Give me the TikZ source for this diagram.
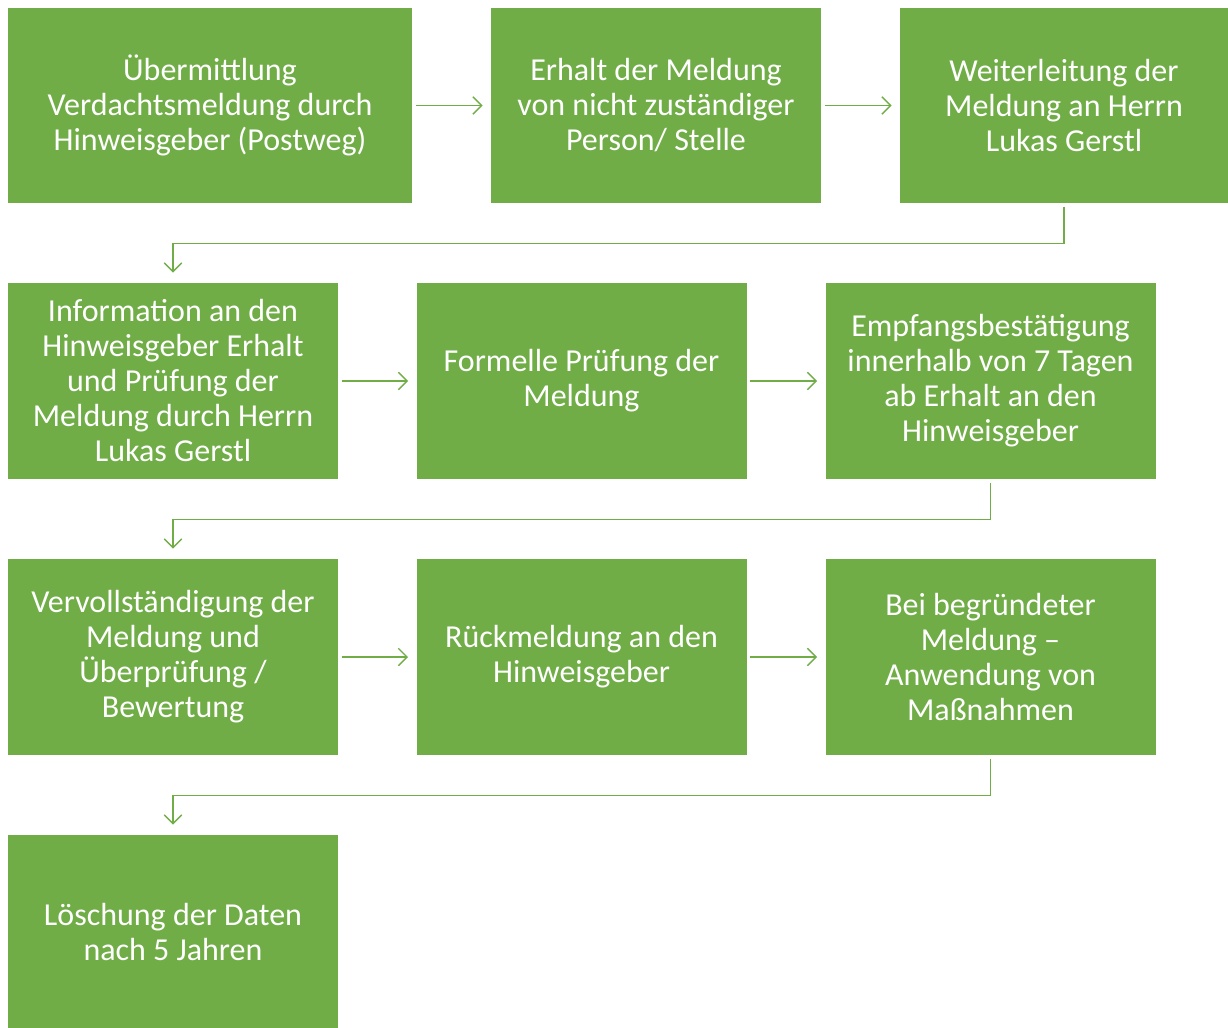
\documentclass[tikz,border=0pt]{standalone}
\usepackage{fontspec}
\setmainfont{Carlito}
\usetikzlibrary{arrows.meta}

\definecolor{kastengruen}{RGB}{112,173,71}
\tikzset{every picture/.style={line width=0.75pt}}
\tikzset{
  kasten/.style={fill=kastengruen, draw=none, text=white, align=center, inner sep=0pt,
    font=\fontsize{24}{26.25}\selectfont},
  pfeil/.style={draw=kastengruen, line width=1pt, -{Straight Barb[length=6.5pt,width=13pt]},
    shorten <=2.25pt, shorten >=6pt},
  knick/.style={pfeil, shorten >=7.5pt}
}

\begin{document}
\begin{tikzpicture}[x=0.75pt,y=0.75pt,yscale=-1,xscale=1]
\useasboundingbox (0,0) rectangle (1228,1028);

% Reihe 1
\node [kasten, minimum width=303pt, minimum height=146.25pt] (post) at (210,105.5) {Übermittlung\\Verdachtsmeldung durch\\Hinweisgeber (Postweg)};
\node [kasten, minimum width=247.5pt, minimum height=146.25pt] (erhalt) at (656,105.5) {Erhalt der Meldung\\von nicht zuständiger\\Person/ Stelle};
\node [kasten, minimum width=246pt, minimum height=146.25pt] (weiter) at (1064,105.5) {Weiterleitung der\\Meldung an Herrn\\Lukas Gerstl};

% Reihe 2
\node [kasten, minimum width=247.5pt, minimum height=147pt] (info) at (173,381) {Information an den\\Hinweisgeber Erhalt\\und Prüfung der\\Meldung durch Herrn\\Lukas Gerstl};
\node [kasten, minimum width=247.5pt, minimum height=147pt] (pruef) at (581.5,381) {Formelle Prüfung der\\Meldung};
\node [kasten, minimum width=247.5pt, minimum height=147pt] (empf) at (990.5,381) {Empfangsbestätigung\\innerhalb von 7 Tagen\\ab Erhalt an den\\Hinweisgeber};

% Reihe 3
\node [kasten, minimum width=247.5pt, minimum height=147pt] (vervoll) at (173,657) {Vervollständigung der\\Meldung und\\Überprüfung /\\Bewertung};
\node [kasten, minimum width=247.5pt, minimum height=147pt] (rueck) at (581.5,657) {Rückmeldung an den\\Hinweisgeber};
\node [kasten, minimum width=247.5pt, minimum height=147pt] (mass) at (990.5,657) {Bei begründeter\\Meldung –\\Anwendung von\\Maßnahmen};

% Reihe 4
\node [kasten, minimum width=247.5pt, minimum height=144.75pt] (loesch) at (173,931.5) {Löschung der Daten\\nach 5 Jahren};

% Pfeile
\draw [pfeil] (post) -- (erhalt);
\draw [pfeil] (erhalt) -- (weiter);
\draw [knick] (weiter.south) -- ++(0,40) -| (info.north);
\draw [pfeil] (info) -- (pruef);
\draw [pfeil] (pruef) -- (empf);
\draw [knick] (empf.south) -- ++(0,40) -| (vervoll.north);
\draw [pfeil] (vervoll) -- (rueck);
\draw [pfeil] (rueck) -- (mass);
\draw [knick] (mass.south) -- ++(0,40) -| (loesch.north);

\end{tikzpicture}
\end{document}
